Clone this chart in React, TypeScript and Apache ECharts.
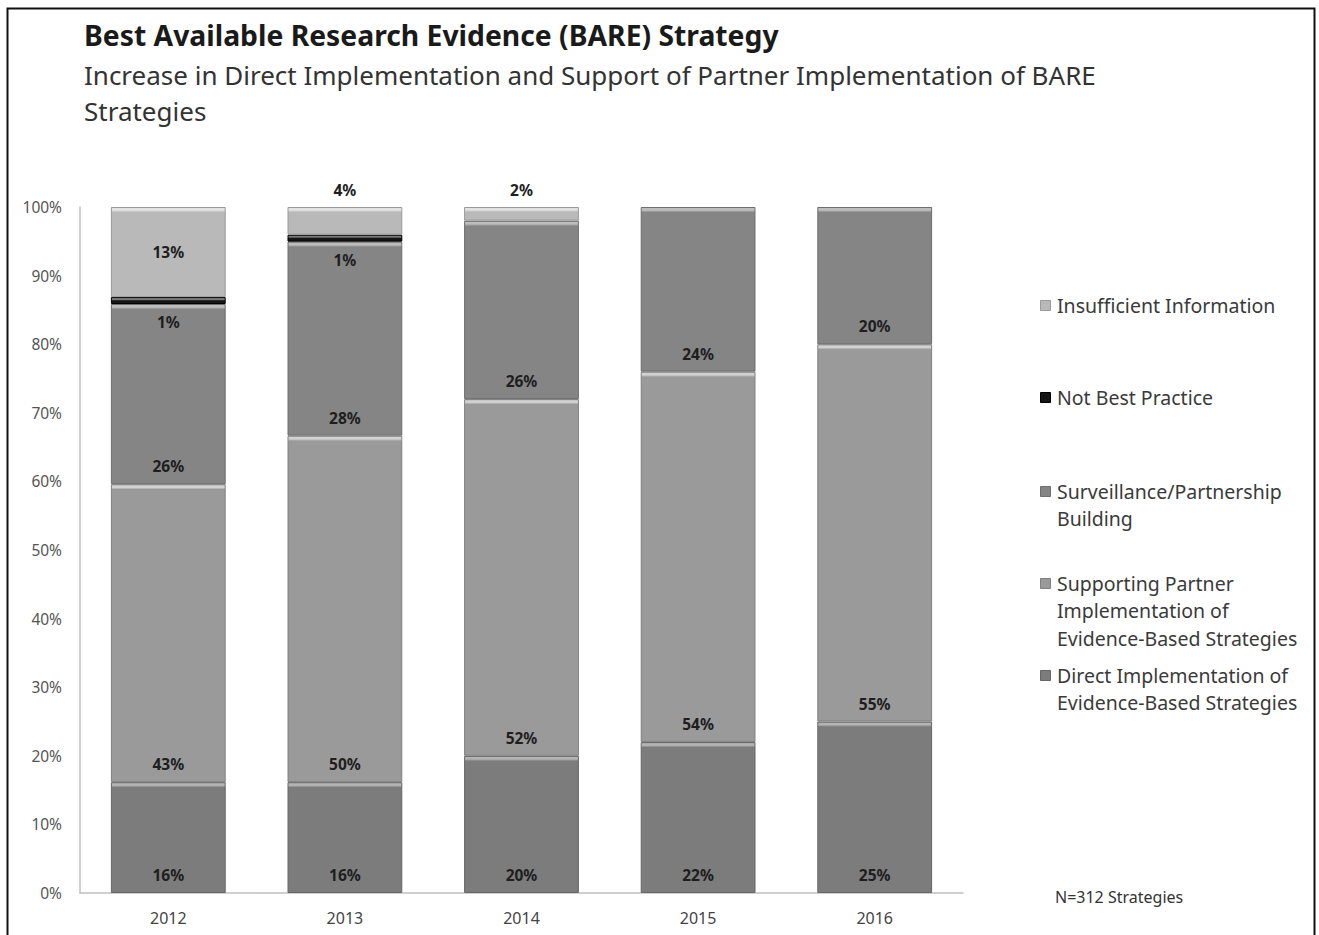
import React, { useEffect, useRef } from "react";
import * as echarts from "echarts";

const years = ["2012", "2013", "2014", "2015", "2016"];
const seriesNames = [
  "Direct Implementation of Evidence-Based Strategies",
  "Supporting Partner Implementation of Evidence-Based Strategies",
  "Surveillance/Partnership Building",
  "Not Best Practice",
  "Insufficient Information",
];
const legendLabels = [
  "Direct Implementation of\nEvidence-Based Strategies",
  "Supporting Partner\nImplementation of\nEvidence-Based Strategies",
  "Surveillance/Partnership\nBuilding",
  "Not Best Practice",
  "Insufficient Information",
];
const directImpl = [16, 16, 20, 22, 25];
const supportingPartner = [43, 50, 52, 54, 55];
const surveillance = [26, 28, 26, 24, 20];
const notBestPractice = [1, 1, 0, 0, 0];
const insufficientInfo = [13, 4, 2, 0, 0];
const yTicks = [0, 10, 20, 30, 40, 50, 60, 70, 80, 90, 100];

const seriesValues = [directImpl, supportingPartner, surveillance, notBestPractice, insufficientInfo];
const baseColors = ["#7c7c7c", "#9a9a9a", "#858585", "#151515", "#b9b9b9"];
const edgeColors = ["#666666", "#808080", "#6e6e6e", "#000000", "#9a9a9a"];
const lightColors = ["#b4b4b4", "#d2d2d2", "#bdbdbd", "#7a7a7a", "#e2e2e2"];
const legendTops = [675, 583, 491, 397, 305];

const PLOT_TOP = 207;
const PLOT_BOTTOM = 893;
const PX_PER_PCT = (PLOT_BOTTOM - PLOT_TOP) / 100;

export default function App() {
  const ref = useRef<HTMLDivElement>(null);
  useEffect(() => {
    if (!ref.current) return;
    const chart = echarts.init(ref.current, null, { renderer: "svg" });
    const totals = years.map((_, yi) =>
      seriesValues.reduce((s, arr) => s + arr[yi], 0)
    );
    const labelBase = {
      show: true,
      fontFamily: "Noto Sans",
      fontSize: 15.5,
      fontWeight: "bold" as const,
      color: "#1e1e1e",
    };
    const series = seriesNames.map((name, si) => {
      const data = seriesValues[si].map((v, yi) => {
        if (v === 0) return { value: null, raw: 0 };
        const pct = (v / totals[yi]) * 100;
        const h = Math.max(pct * PX_PER_PCT, 1);
        const f = Math.min(0.45, 4 / h);
        const item: any = {
          value: pct,
          raw: v,
          itemStyle: {
            color: {
              type: "linear",
              x: 0,
              y: 0,
              x2: 0,
              y2: 1,
              colorStops: [
                { offset: 0, color: baseColors[si] },
                { offset: f * 0.25, color: lightColors[si] },
                { offset: f * 0.7, color: lightColors[si] },
                { offset: Math.min(1, f * 1.2), color: baseColors[si] },
                { offset: 1, color: baseColors[si] },
              ],
            },
          },
        };
        if (si === 4) {
          item.label = v >= 10 ? { position: "inside" } : { position: "top", distance: 9 };
        }
        return item;
      });
      let label: any;
      if (si <= 2) {
        label = { ...labelBase, position: "insideBottom", distance: 10 };
      } else if (si === 3) {
        label = { ...labelBase, position: "bottom", distance: 10 };
      } else {
        label = { ...labelBase, position: "inside" };
      }
      label.formatter = (p: any) => (p.data.raw > 0 ? p.data.raw + "%" : "");
      return {
        name,
        type: "bar",
        stack: "total",
        barCategoryGap: "35%",
        data,
        label,
        itemStyle: { borderColor: edgeColors[si], borderWidth: 1 },
        z: 2 + si,
      };
    });

    const legendGraphics: any[] = [];
    seriesNames.forEach((name, si) => {
      const cy = legendTops[si];
      legendGraphics.push({
        type: "rect",
        left: 1040,
        top: cy - 5,
        shape: { width: 10, height: 10 },
        style: { fill: baseColors[si], stroke: edgeColors[si], lineWidth: 1 },
      });
      legendGraphics.push({
        type: "text",
        left: 1057,
        top: cy - 13.75,
        style: {
          text: legendLabels[si],
          fontFamily: "Noto Sans",
          fontSize: 19.5,
          lineHeight: 27.5,
          fill: "#3a3a3a",
        },
      });
    });

    chart.setOption({
      animation: false,
      backgroundColor: "#ffffff",
      title: [
        {
          text: "Best Available Research Evidence (BARE) Strategy",
          left: 84,
          top: 21,
          padding: 0,
          textStyle: {
            fontFamily: "Noto Sans",
            fontSize: 28.3,
            fontWeight: "bold",
            color: "#1a1a1a",
          },
        },
        {
          text: "Increase in Direct Implementation and Support of Partner Implementation of BARE\nStrategies",
          left: 84,
          top: 57,
          padding: 0,
          textStyle: {
            fontFamily: "Noto Sans",
            fontSize: 26,
            fontWeight: "normal",
            lineHeight: 36,
            color: "#333333",
          },
        },
      ],
      grid: {
        left: 80,
        right: 1319 - 963,
        top: PLOT_TOP,
        bottom: 935 - PLOT_BOTTOM,
        containLabel: false,
      },
      xAxis: {
        type: "category",
        data: years,
        axisLine: { show: true, lineStyle: { color: "#c0c0c0", width: 1.5 } },
        axisTick: { show: false },
        axisLabel: {
          fontFamily: "Noto Sans",
          fontSize: 16,
          color: "#444444",
          margin: 17,
        },
      },
      yAxis: {
        type: "value",
        min: yTicks[0],
        max: yTicks[yTicks.length - 1],
        interval: 10,
        axisLine: { show: true, lineStyle: { color: "#c0c0c0", width: 1.5 } },
        axisTick: { show: false },
        splitLine: { show: false },
        axisLabel: {
          fontFamily: "Noto Sans",
          fontSize: 15.5,
          color: "#555555",
          margin: 18,
          formatter: "{value}%",
        },
      },
      series,
      graphic: [
        {
          type: "rect",
          left: 5,
          top: 6,
          shape: { width: 1307, height: 1000 },
          style: { fill: "none", stroke: "#111111", lineWidth: 2 },
          silent: true,
        },
        ...legendGraphics,
        {
          type: "text",
          left: 1055,
          top: 889,
          style: {
            text: "N=312 Strategies",
            fontFamily: "Noto Sans",
            fontSize: 16,
            fill: "#333333",
          },
        },
      ],
    });
    return () => chart.dispose();
  }, []);
  return (
    <div
      ref={ref}
      style={{ position: "absolute", left: 0, top: 0, width: 1319, height: 935 }}
    />
  );
}
